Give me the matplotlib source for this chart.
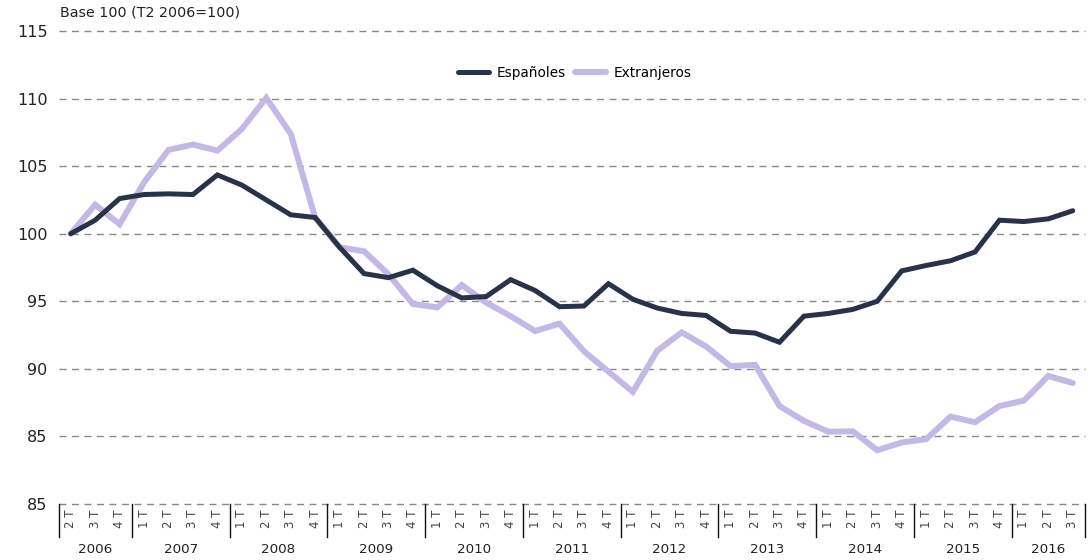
import numpy as np
import matplotlib.pyplot as plt
import matplotlib.transforms as mtransforms

# -------------------------------------------------------------------------
# Data (Base 100, T2 2006 = 100)
# -------------------------------------------------------------------------
years = [2006, 2007, 2008, 2009, 2010, 2011, 2012, 2013, 2014, 2015, 2016]
quarters_per_year = [
  ['2 T', '3 T', '4 T'],
  ['1 T', '2 T', '3 T', '4 T'],
  ['1 T', '2 T', '3 T', '4 T'],
  ['1 T', '2 T', '3 T', '4 T'],
  ['1 T', '2 T', '3 T', '4 T'],
  ['1 T', '2 T', '3 T', '4 T'],
  ['1 T', '2 T', '3 T', '4 T'],
  ['1 T', '2 T', '3 T', '4 T'],
  ['1 T', '2 T', '3 T', '4 T'],
  ['1 T', '2 T', '3 T', '4 T'],
  ['1 T', '2 T', '3 T'],
]

espanoles = [
  100.0, 101.0, 102.6, 102.9, 102.95, 102.9, 104.35, 103.6, 102.5, 101.4,
  101.2, 99.0, 97.05, 96.75, 97.3, 96.15, 95.25, 95.35, 96.6, 95.8,
  94.6, 94.65, 96.3, 95.15, 94.5, 94.1, 93.95, 92.78, 92.65, 91.97,
  93.9, 94.1, 94.4, 95.0, 97.25, 97.65, 98.0, 98.65, 101.0, 100.9,
  101.1, 101.7,
]
extranjeros = [
  100.0, 102.15, 100.7, 103.8, 106.2, 106.6, 106.15, 107.75, 110.05, 107.4,
  101.2, 99.0, 98.7, 97.0, 94.8, 94.55, 96.2, 94.9, 93.9, 92.8,
  93.35, 91.3, 89.8, 88.3, 91.35, 92.7, 91.65, 90.2, 90.3, 87.25,
  86.15, 85.35, 85.38, 83.98, 84.55, 84.8, 86.47, 86.05, 87.25, 87.65,
  89.48, 88.95,
]

yticks = [80, 85, 90, 95, 100, 105, 110, 115]
ytick_labels = ['85', '85', '90', '95', '100', '105', '110', '115']

dark = '#283347'
lilac = '#c3b8e6'

plt.rcParams['font.family'] = ['DejaVu Sans']

# -------------------------------------------------------------------------
# Plot
# -------------------------------------------------------------------------
fig = plt.figure(figsize=(10.89, 5.6), dpi=100)
ax = fig.add_axes([58.5 / 1089, 0.1, (1085 - 58.5) / 1089, (504 - 31) / 560])

x = np.arange(len(espanoles))
ax.plot(x, espanoles, color=dark, lw=3.6, label='Españoles', zorder=3,
        solid_joinstyle='miter', solid_capstyle='round')
ax.plot(x, extranjeros, color=lilac, lw=4.3, label='Extranjeros', zorder=2,
        solid_joinstyle='miter', solid_capstyle='round')

ax.set_ylim(80, 115)
ax.set_xlim(-0.5, len(x) - 0.5)
ax.set_yticks(yticks)
ax.set_yticklabels(ytick_labels, fontsize=11.5, color='#222222')
ax.yaxis.grid(True, color='#888888', lw=1.0, linestyle=(0, (5, 4)))
for gl in ax.get_ygridlines():
  gl.set_clip_on(False)
ax.set_axisbelow(True)
ax.tick_params(axis='y', length=0, pad=8)

quarter_labels = [q for qs in quarters_per_year for q in qs]
ax.set_xticks(x)
ax.set_xticklabels(quarter_labels, rotation=90, fontsize=8.5, color='#444444')
ax.tick_params(axis='x', length=0, pad=4)

for s in ax.spines.values():
  s.set_visible(False)

# year groups: separators and labels
trans = mtransforms.blended_transform_factory(ax.transData, ax.transAxes)
start = -0.5
bounds = [start]
for yr, qs in zip(years, quarters_per_year):
  end = start + len(qs)
  ax.text((start + end) / 2, -0.097, str(yr), transform=trans,
          ha='center', va='center', fontsize=9.7, color='#222222')
  bounds.append(end)
  start = end
for b in bounds:
  ax.plot([b, b], [0, -0.07], transform=trans, color='#111111', lw=1.0,
          clip_on=False)

ax.legend(loc='center', bbox_to_anchor=(0.503, 0.911), ncol=2, frameon=False,
          fontsize=9.8, handlelength=2.3, handletextpad=0.6, columnspacing=0.6)

fig.text(60 / 1089, 1 - 13 / 560, 'Base 100 (T2 2006=100)', fontsize=10.3,
         va='center', ha='left', color='#222222')

fig.savefig('out.png', dpi=100)
